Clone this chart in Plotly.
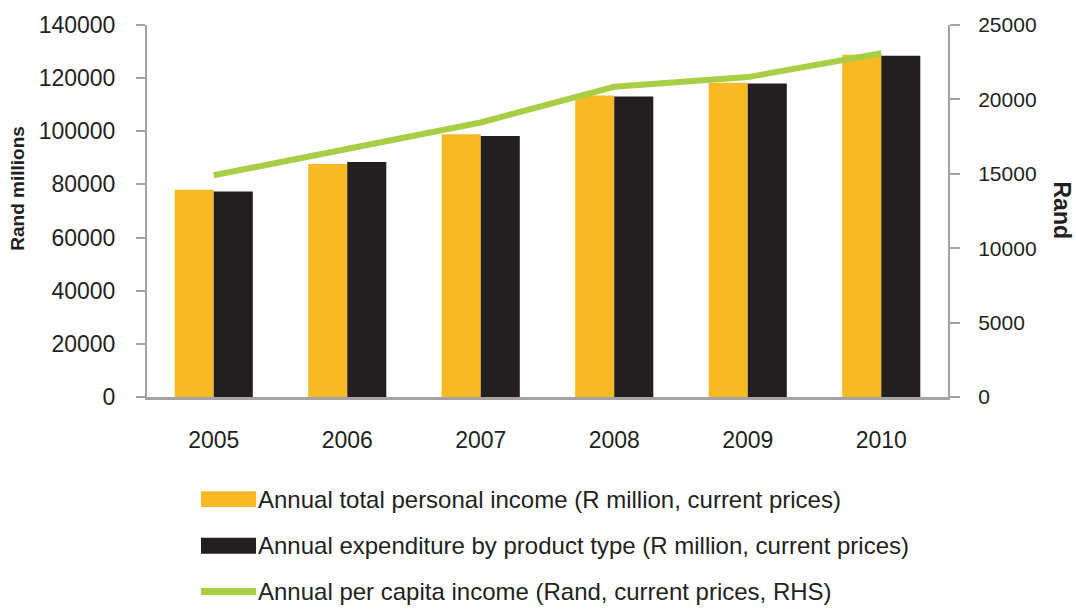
import plotly.graph_objects as go

years = ["2005", "2006", "2007", "2008", "2009", "2010"]
income = [78000, 87700, 98900, 113500, 118300, 128800]
expenditure = [77300, 88400, 98200, 113100, 118000, 128400]
per_capita = [14900, 16700, 18450, 20850, 21500, 23100]

names = [
    "Annual total personal income (R million, current prices)",
    "Annual expenditure by product type (R million, current prices)",
    "Annual per capita income (Rand, current prices, RHS)",
]
colors = ["#F7BA24", "#231F20", "#A8CE45"]
AXIS = "#A3A3A6"
FONT = "Liberation Sans"

fig = go.Figure()
fig.add_trace(go.Bar(x=years, y=income, name=names[0], marker_color=colors[0],
                     marker_line_width=0, showlegend=False))
fig.add_trace(go.Bar(x=years, y=expenditure, name=names[1], marker_color=colors[1],
                     marker_line_width=0, showlegend=False))
fig.add_trace(go.Scatter(x=years, y=per_capita, name=names[2], yaxis="y2", mode="lines",
                         line=dict(color=colors[2], width=6), showlegend=False))

W, H = 1076, 609
L, R, T, B = 147, 948, 22, 397
pw, ph = R - L, B - T

def px(x):
    return (x - L) / pw

def py(y):
    return (B - y) / ph

shapes = []
annotations = []
rows = [500, 547, 593]
for i, (name, c) in enumerate(zip(names, colors)):
    yc = rows[i]
    hh = 8 if i < 2 else 3.5
    shapes.append(dict(type="rect", xref="paper", yref="paper",
                       x0=px(201), x1=px(256), y0=py(yc - hh), y1=py(yc + hh),
                       fillcolor=c, line_width=0))
    annotations.append(dict(text=name, xref="paper", yref="paper", x=px(256), y=py(yc),
                            xanchor="left", yanchor="middle", showarrow=False,
                            font=dict(family=FONT, size=24, color="#231F20")))

annotations.append(dict(text="<b>Rand millions</b>", xref="paper", yref="paper",
                        x=px(18), y=py(187), textangle=-90, showarrow=False,
                        xanchor="center", yanchor="middle",
                        font=dict(family=FONT, size=19, color="#231F20")))
annotations.append(dict(text="<b>Rand</b>", xref="paper", yref="paper",
                        x=px(1062), y=py(209), textangle=90, showarrow=False,
                        xanchor="center", yanchor="middle",
                        font=dict(family=FONT, size=23, color="#231F20")))

fig.update_layout(
    width=W, height=H,
    margin=dict(l=L, r=W - R, t=T, b=H - B, pad=0),
    paper_bgcolor="white", plot_bgcolor="white",
    barmode="group", bargap=0.415, bargroupgap=0,
    font=dict(family=FONT, size=21, color="#231F20"),
    xaxis=dict(type="category", range=[-0.5, 5.5], showline=True, linecolor=AXIS,
               linewidth=3, ticks="", showgrid=False, ticklabelstandoff=20,
               tickfont=dict(size=23)),
    yaxis=dict(range=[0, 140000], dtick=20000, showline=True, linecolor=AXIS,
               linewidth=2, ticks="outside", ticklen=9, tickwidth=2, tickcolor=AXIS,
               showgrid=False, zeroline=False, ticklabelstandoff=16,
               tickformat="d", tickfont=dict(size=23)),
    yaxis2=dict(range=[0, 25000], dtick=5000, overlaying="y", side="right",
                showline=True, linecolor=AXIS, linewidth=2, ticks="outside",
                ticklen=10, tickwidth=2, tickcolor=AXIS, showgrid=False,
                zeroline=False, tickformat="d", ticklabelstandoff=14,
                tickfont=dict(size=21)),
    shapes=shapes, annotations=annotations,
)

fig.write_html("out.html")
